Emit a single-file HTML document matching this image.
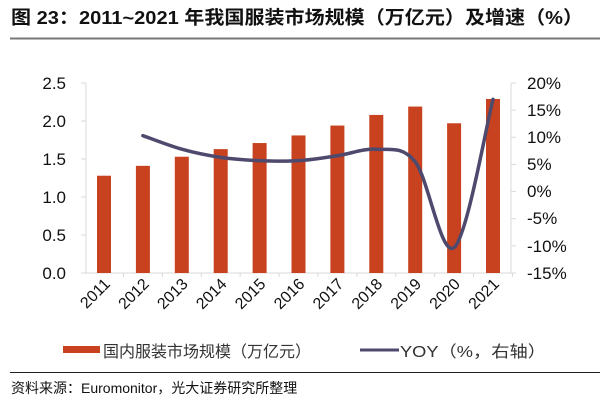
<!DOCTYPE html>
<html><head><meta charset="utf-8"><style>
body{margin:0;width:600px;height:400px;background:#fff;overflow:hidden;font-family:"Liberation Sans","Noto Sans CJK SC",sans-serif}
</style></head><body>
<svg width="600" height="400" xmlns="http://www.w3.org/2000/svg" font-family="Liberation Sans, Noto Sans CJK SC, sans-serif">
<text x="11" y="24" font-size="18.5" font-weight="bold" fill="#111" textLength="572" lengthAdjust="spacingAndGlyphs">图 23：2011~2021 年我国服装市场规模（万亿元）及增速（%）</text>
<line x1="10" y1="38.5" x2="600" y2="38.5" stroke="#777" stroke-width="2"/>
<g id="axes" stroke="#d9d9d9" stroke-width="1" fill="none">
<line x1="86" y1="83" x2="86" y2="273"/>
<line x1="86" y1="273" x2="511" y2="273"/>
<line x1="511" y1="83" x2="511" y2="273"/>
</g>
<g id="bars" fill="#c8421f"></g>
<g font-size="17" fill="#111" text-anchor="end">
<text x="66" y="89">2.5</text><text x="66" y="127">2.0</text><text x="66" y="165">1.5</text>
<text x="66" y="203">1.0</text><text x="66" y="241">0.5</text><text x="66" y="279">0.0</text>
</g>
<g font-size="17" fill="#111" text-anchor="start">
<text x="527" y="89">20%</text><text x="527" y="116">15%</text><text x="527" y="143">10%</text>
<text x="527" y="170">5%</text><text x="527" y="197">0%</text><text x="527" y="224">-5%</text>
<text x="527" y="252">-10%</text><text x="527" y="279">-15%</text>
</g>
<g id="xl" font-size="16" fill="#111" text-anchor="end"></g>
<path id="yoy" fill="none" stroke="#4e4a6e" stroke-width="3.5" stroke-linecap="round"/>
<rect x="63" y="346" width="37" height="7" fill="#c8421f"/>
<text x="103" y="357" font-size="16" fill="#333">国内服装市场规模（万亿元）</text>
<line x1="360" y1="350" x2="399" y2="350" stroke="#4e4a6e" stroke-width="3"/>
<text x="400" y="357" font-size="16" fill="#333" textLength="146" lengthAdjust="spacingAndGlyphs">YOY（%，右轴）</text>
<line x1="10" y1="372.5" x2="600" y2="372.5" stroke="#222" stroke-width="1"/>
<text x="11" y="393" font-size="14" fill="#111">资料来源：Euromonitor，光大证券研究所整理</text>
</svg>
<script>
var ns="http://www.w3.org/2000/svg";
var vals=[1.28,1.41,1.53,1.63,1.71,1.81,1.94,2.08,2.19,1.97,2.29];
var bars=document.getElementById('bars'),xl=document.getElementById('xl'),ax=document.getElementById('axes');
for(var i=0;i<11;i++){var cx=104+38.9*i;var h=vals[i]*76;
var r=document.createElementNS(ns,'rect');r.setAttribute('x',cx-7);r.setAttribute('y',273-h);r.setAttribute('width',14);r.setAttribute('height',h);bars.appendChild(r);
var t=document.createElementNS(ns,'text');t.setAttribute('transform','translate('+(cx+7)+',285) rotate(-45)');t.textContent=2011+i;xl.appendChild(t);
var tk=document.createElementNS(ns,'line');tk.setAttribute('x1',cx+19.45);tk.setAttribute('x2',cx+19.45);tk.setAttribute('y1',273);tk.setAttribute('y2',277);ax.appendChild(tk);}
for(var k=0;k<8;k++){var y=83+k*27.14;var tk=document.createElementNS(ns,'line');tk.setAttribute('x1',511);tk.setAttribute('x2',516);tk.setAttribute('y1',y);tk.setAttribute('y2',y);ax.appendChild(tk);
if(k<=5){var y2=83+k*38;var t2=document.createElementNS(ns,'line');t2.setAttribute('x1',81);t2.setAttribute('x2',86);t2.setAttribute('y1',y2);t2.setAttribute('y2',y2);ax.appendChild(t2);}}
var yv=[10.3,7.8,6.3,5.7,5.7,6.6,7.8,5.5,-10.3,17];
var p=yv.map(function(v,i){return [104+38.9*(i+1),83+(20-v)*5.43];});
var d='M'+p[0][0]+','+p[0][1];
for(var i=0;i<p.length-1;i++){var p0=p[i-1]||p[i],p1=p[i],p2=p[i+1],p3=p[i+2]||p[i+1];
d+=' C'+(p1[0]+(p2[0]-p0[0])/6)+','+(p1[1]+(p2[1]-p0[1])/6)+' '+(p2[0]-(p3[0]-p1[0])/6)+','+(p2[1]-(p3[1]-p1[1])/6)+' '+p2[0]+','+p2[1];}
document.getElementById('yoy').setAttribute('d',d);
</script>
</body></html>
